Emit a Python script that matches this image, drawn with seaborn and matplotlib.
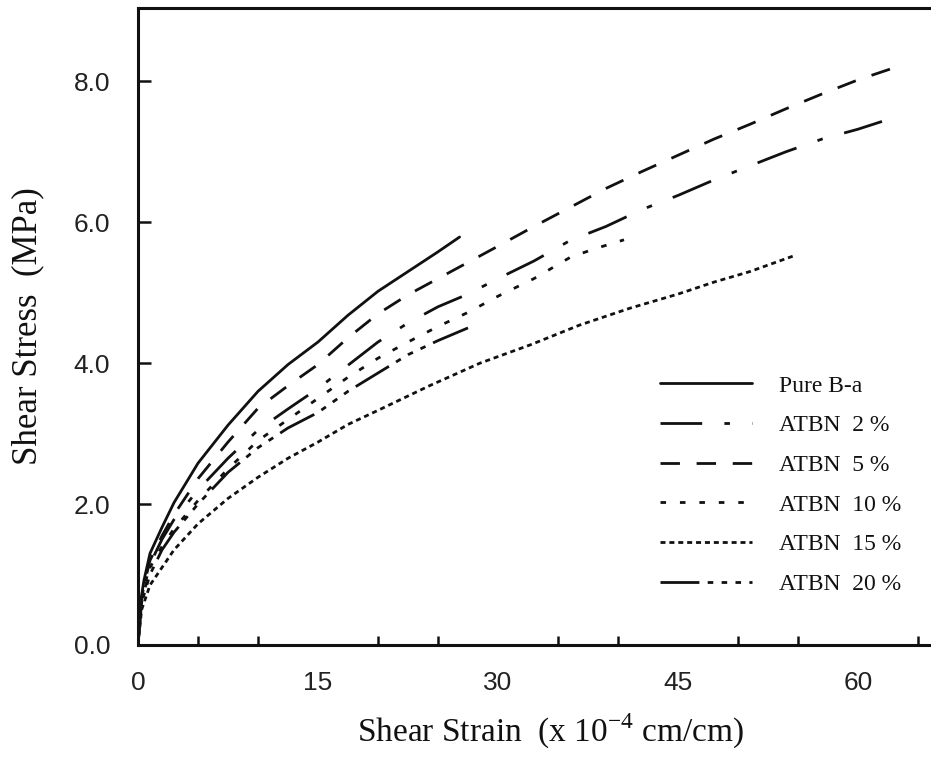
import matplotlib
matplotlib.use("Agg")
import matplotlib.pyplot as plt
from matplotlib.lines import Line2D
import seaborn as sns
import pandas as pd

# ---- data ----
pure_x = [0, 0.2, 0.5, 1, 2, 3, 5, 7.5, 10, 12.5, 15, 17.5, 20, 22.5, 25, 26.8]
pure_y = [0, 0.6, 0.92, 1.3, 1.67, 2.02, 2.58, 3.12, 3.6, 3.98, 4.3, 4.68, 5.02, 5.3, 5.58, 5.79]

a5_x = [0, 0.2, 0.5, 1, 2, 3, 5, 7.5, 10, 12.5, 15, 17.5, 20, 22.5, 25, 27.5, 30, 33, 36, 39, 42, 45, 48, 51, 54, 57, 60, 63.5]
a5_y = [0, 0.55, 0.85, 1.2, 1.55, 1.85, 2.36, 2.88, 3.36, 3.68, 3.98, 4.36, 4.7, 4.97, 5.2, 5.43, 5.66, 5.94, 6.21, 6.48, 6.72, 6.95, 7.18, 7.39, 7.61, 7.82, 8.02, 8.22]

a2_x = [0, 0.2, 0.5, 1, 2, 3, 5, 7.5, 10, 12.5, 15, 17.5, 20, 22.5, 25, 27.5, 30, 33, 36, 39, 42, 45, 48, 51, 54, 57, 60, 62]
a2_y = [0, 0.5, 0.8, 1.15, 1.5, 1.78, 2.2, 2.65, 3.05, 3.35, 3.64, 3.97, 4.3, 4.57, 4.8, 4.98, 5.2, 5.45, 5.74, 5.94, 6.18, 6.38, 6.6, 6.8, 7.0, 7.18, 7.32, 7.43]

a10_x = [0, 0.3, 1, 2, 3, 5, 7.5, 10, 12.5, 15, 17.5, 20, 22.5, 25, 27.5, 30, 33, 36, 38, 40.5]
a10_y = [0, 0.6, 1.1, 1.4, 1.65, 2.05, 2.5, 2.9, 3.2, 3.5, 3.8, 4.07, 4.3, 4.52, 4.72, 4.95, 5.2, 5.5, 5.62, 5.75]

a15_x = [0, 0.3, 1, 2, 3, 5, 7.5, 10, 12.5, 15, 17.5, 20, 24.3, 28.5, 32.7, 36.8, 41, 45, 48, 51, 54.6]
a15_y = [0, 0.5, 0.85, 1.1, 1.35, 1.72, 2.08, 2.38, 2.65, 2.88, 3.13, 3.33, 3.68, 4.0, 4.26, 4.54, 4.78, 4.98, 5.15, 5.3, 5.52]

a20_x = [0, 0.3, 1, 2, 3, 5, 7.5, 10, 12.5, 15, 17.5, 20, 22.5, 25, 27.5]
a20_y = [0, 0.6, 1.0, 1.35, 1.6, 2.0, 2.45, 2.8, 3.08, 3.3, 3.6, 3.86, 4.12, 4.32, 4.5]

labels = ["Pure B-a", "ATBN  2 %", "ATBN  5 %", "ATBN  10 %", "ATBN  15 %", "ATBN  20 %"]
xticks = [0, 15, 30, 45, 60]
yticks = [0.0, 2.0, 4.0, 6.0, 8.0]

frames = []
for lab, xs, ys in zip(labels,
                       [pure_x, a2_x, a5_x, a10_x, a15_x, a20_x],
                       [pure_y, a2_y, a5_y, a10_y, a15_y, a20_y]):
    frames.append(pd.DataFrame({"strain": xs, "stress": ys, "series": lab}))
df = pd.concat(frames, ignore_index=True)

dash_map = {
    "Pure B-a": "",
    "ATBN  2 %": (15, 8, 2, 8),
    "ATBN  5 %": (7, 6),
    "ATBN  10 %": (2, 5),
    "ATBN  15 %": (1.8, 1.4),
    "ATBN  20 %": (14, 3, 2, 3, 2, 3, 2, 3),
}

sns.set_theme(style="white")
plt.rcParams["font.family"] = ["Liberation Sans", "DejaVu Sans"]
plt.rcParams["mathtext.fontset"] = "custom"
plt.rcParams["mathtext.rm"] = "Liberation Serif"

fig = plt.figure(figsize=(9.31, 7.57), dpi=100)
ax = fig.add_axes([138 / 931, 112 / 757, 792 / 931, 637 / 757])

sns.lineplot(data=df, x="strain", y="stress", hue="series", style="series",
             palette=["#111111"] * 6, dashes=dash_map, linewidth=2.0,
             sort=False, estimator=None, legend=False, ax=ax)

ax.set_xlim(0, 66)
ax.set_ylim(0, 9.04)
ax.set_xticks(xticks)
ax.set_xticklabels([str(t) for t in xticks])
ax.set_xticks([5, 10, 20, 25, 35, 40, 50, 55, 65], minor=True)
ax.set_yticks(yticks)
ax.set_yticklabels([f"{t:.1f}" for t in yticks])

ax.tick_params(axis="x", which="major", direction="in", length=12.5, width=1.8,
               pad=19, labelsize=19, labelcolor="#222222", color="#111111")
ax.tick_params(axis="x", which="minor", direction="in", length=6.5, width=1.8,
               color="#111111", bottom=True)
ax.tick_params(axis="y", which="major", direction="in", length=9.5, width=1.8,
               pad=20, labelsize=19, labelcolor="#222222", color="#111111", left=True)

for side in ["left", "bottom", "top"]:
    ax.spines[side].set_visible(True)
    ax.spines[side].set_linewidth(2.2)
    ax.spines[side].set_color("#111111")
ax.spines["right"].set_visible(False)

ax.set_xlabel("Shear Strain  (x 10$^{\\mathregular{ -4}}$ cm/cm)",
              fontfamily="Liberation Serif", fontsize=24, color="#111111")
ax.xaxis.set_label_coords((551 - 138) / 792, -(712 - 645) / 637)
ax.set_ylabel("Shear Stress  (MPa)", fontfamily="Liberation Serif",
              fontsize=25, color="#111111")
ax.yaxis.set_label_coords(-(138 - 44) / 792, 0.5)

handles = []
for lab in labels:
    d = dash_map[lab]
    if d == "":
        h = Line2D([0], [0], color="#111111", lw=2.0, linestyle="-")
    else:
        h = Line2D([0], [0], color="#111111", lw=2.0, linestyle=(0, d))
    handles.append(h)

leg = ax.legend(handles, labels, loc="upper left",
                bbox_to_anchor=((660 - 138) / 792, 1 - (375 - 8) / 637),
                frameon=False, handlelength=3.9, handletextpad=1.15,
                labelspacing=0.77, borderpad=0, borderaxespad=0,
                prop={"family": "Liberation Serif", "size": 17})
for t in leg.get_texts():
    t.set_color("#111111")

fig.savefig("out.png", dpi=100, facecolor="white")
